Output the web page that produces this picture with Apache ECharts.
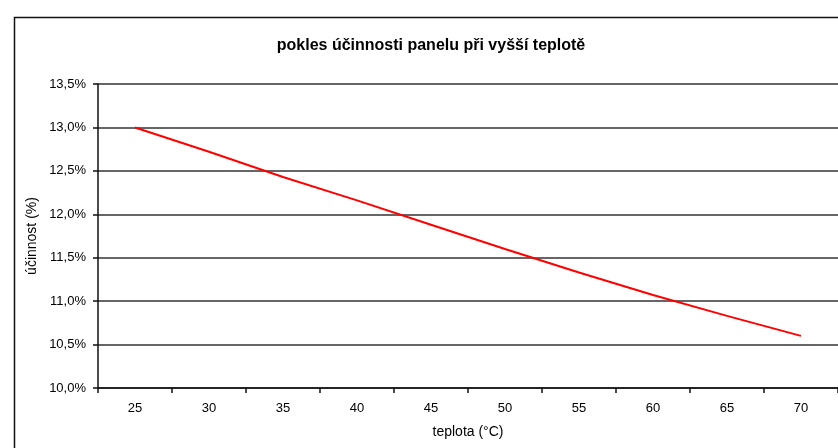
<!DOCTYPE html>
<html>
<head>
<meta charset="utf-8">
<script src="https://cdn.jsdelivr.net/npm/echarts@6/dist/echarts.min.js"></script>
<style>html,body{margin:0;padding:0;background:#fff}#c{width:838px;height:448px}</style>
</head>
<body>
<div id="c"></div>
<script>
const temperatures = ['25','30','35','40','45','50','55','60','65','70'];
const efficiency = [13.0, 12.72, 12.43, 12.16, 11.88, 11.6, 11.33, 11.07, 10.83, 10.6];
const titleText = 'pokles účinnosti panelu při vyšší teplotě';
const xName = 'teplota (°C)';
const yName = 'účinnost (%)';

const chart = echarts.init(document.getElementById('c'), null, {renderer: 'canvas'});
const font = '"Liberation Sans", Arial, sans-serif';
chart.setOption({
  animation: false,
  backgroundColor: '#fff',
  graphic: [{
    type: 'rect', left: 12, top: 15, shape: {width: 840, height: 450},
    style: {fill: 'none', stroke: '#111', lineWidth: 1.5}, silent: true
  }, {
    type: 'text', x: 32, y: 236, rotation: Math.PI/2,
    style: {text: yName, font: '14px "Liberation Sans", Arial, sans-serif', fill: '#000', align: 'center', verticalAlign: 'middle'}
  }],
  title: {
    text: titleText, left: 426, top: 33, textAlign: 'center',
    textStyle: {fontFamily: font, fontSize: 16, fontWeight: 'bold', color: '#000'}
  },
  grid: {left: 98, right: 0, top: 84, bottom: 60, containLabel: false},
  xAxis: {
    type: 'category', data: temperatures, boundaryGap: true,
    name: xName, nameLocation: 'middle', nameGap: 37,
    nameTextStyle: {fontFamily: font, fontSize: 14, color: '#000'},
    axisLine: {lineStyle: {color: '#111', width: 1.5}},
    axisTick: {show: true, length: 5, lineStyle: {color: '#111', width: 1.5}},
    axisLabel: {fontFamily: font, fontSize: 13, color: '#000', margin: 14},
    splitLine: {show: false}
  },
  yAxis: {
    type: 'value', min: 10, max: 13.5, interval: 0.5,
    axisLine: {show: true, lineStyle: {color: '#111', width: 1.5}},
    axisTick: {show: true, length: 5, lineStyle: {color: '#111', width: 1.5}},
    axisLabel: {fontFamily: font, fontSize: 13, color: '#000', margin: 12,
      formatter: v => v.toFixed(1).replace('.', ',') + '%'},
    splitLine: {show: true, lineStyle: {color: '#333', width: 1.5}}
  },
  series: [{
    type: 'line', data: efficiency, symbol: 'none',
    lineStyle: {color: '#ff0000', width: 2}
  }]
});
</script>
</body>
</html>
